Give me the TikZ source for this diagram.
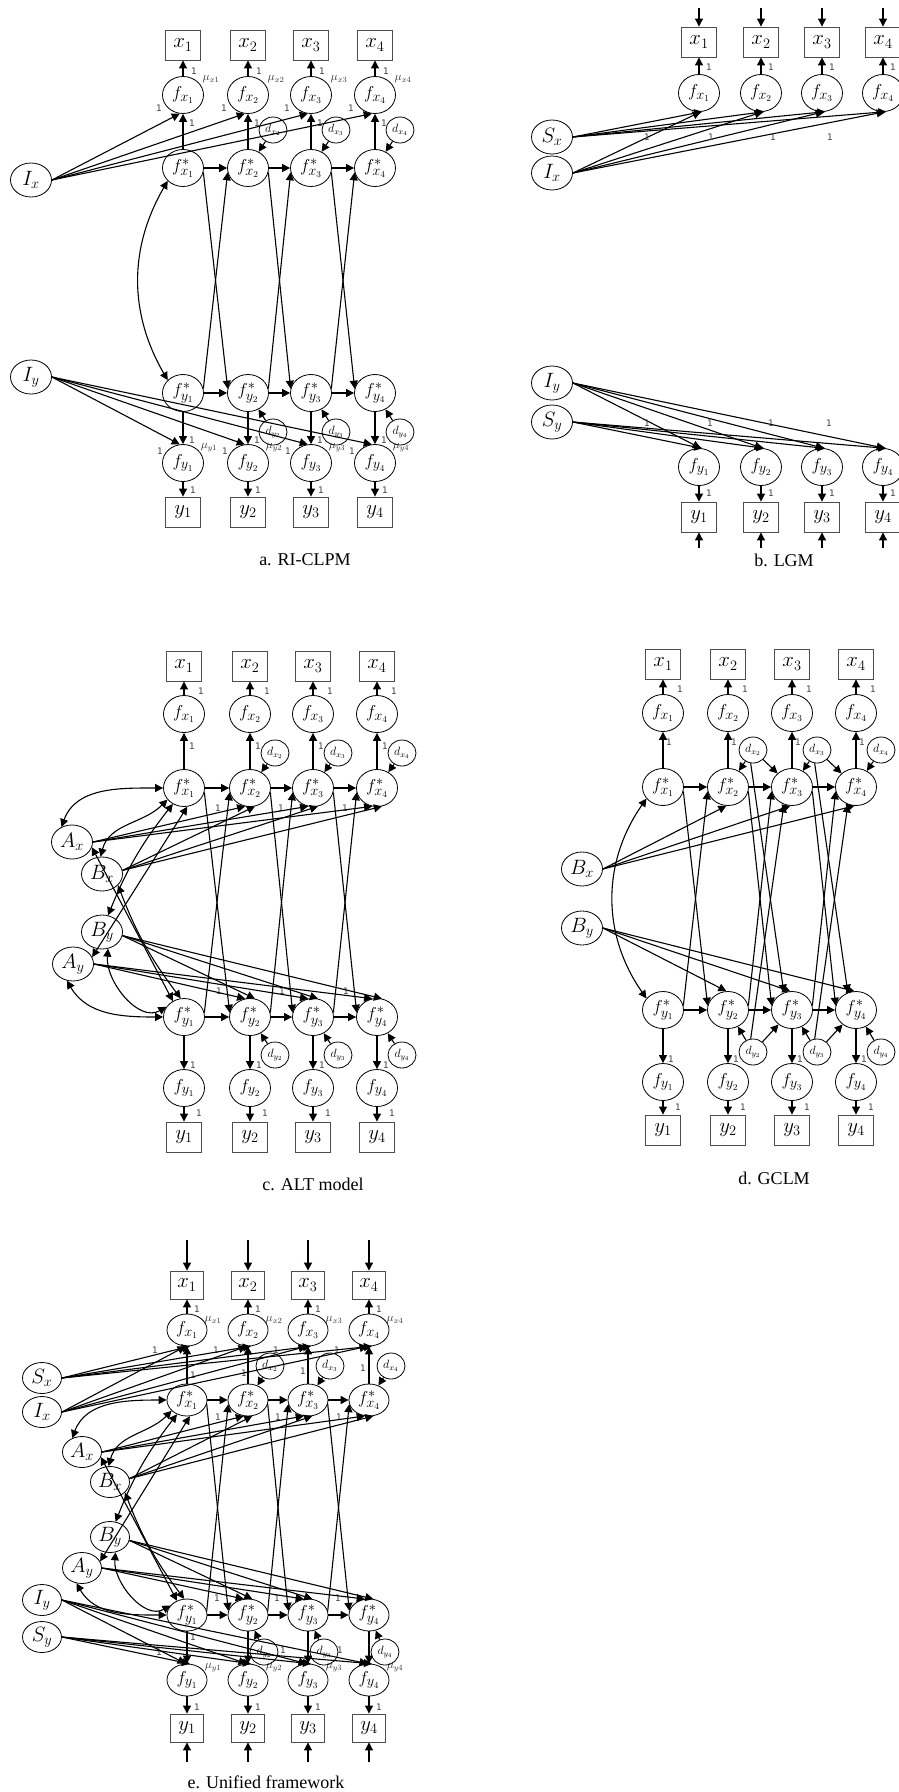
\documentclass[tikz,border=0pt]{standalone}
\usepackage{fontspec}
\setmainfont{Liberation Serif}
\newfontfamily\numfont{DejaVu Sans}
\usetikzlibrary{shapes.geometric,arrows.meta}
\tikzset{
  obs/.style={draw=black!70,line width=0.9pt,minimum width=35pt,minimum height=30pt,inner sep=0pt,font=\fontsize{20}{20}\selectfont},
  obse/.style={obs,minimum width=33pt,minimum height=28pt},
  lat/.style={ellipse,draw,line width=0.8pt,minimum width=41pt,minimum height=37pt,inner sep=-1pt,font=\fontsize{19}{19}\selectfont},
  late/.style={lat,minimum width=40pt,minimum height=32pt},
  grw/.style={ellipse,draw,line width=0.8pt,minimum width=41pt,minimum height=34pt,inner sep=0pt,font=\fontsize{20}{20}\selectfont},
  grwe/.style={grw,minimum width=39pt,minimum height=31pt},
  res/.style={ellipse,draw,line width=0.8pt,minimum width=28pt,minimum height=26pt,inner sep=-1pt,font=\fontsize{12}{12}\selectfont},
  pth/.style={line width=1.1pt,-{Triangle[length=8pt,width=8pt]}},
  cov/.style={line width=1.1pt,{Triangle[length=8pt,width=8pt]}-{Triangle[length=8pt,width=8pt]}},
  one/.style={font=\fontsize{9}{9}\selectfont\numfont,inner sep=0pt,text=black!75},
  mulab/.style={font=\fontsize{12}{12}\selectfont,inner sep=0pt,text=black!80},
  capt/.style={font=\fontsize{18}{18}\selectfont,inner sep=0pt},
}
\begin{document}
\begin{tikzpicture}[x=1pt,y=-1pt]
\fill[white] (0,0) rectangle (899,1792);
\useasboundingbox (0,0) rectangle (899,1792);

% ===================== a. RI-CLPM =====================
\foreach \i/\p in {1/183,2/248,3/311,4/375}{
  \node[obs] (a-x\i) at (\p,45) {$x_{\i}$};
  \node[lat] (a-fx\i) at (\p,95) {$f_{x_{\i}}$};
  \node[lat] (a-sx\i) at (\p,168) {$f^{*}_{x_{\i}}$};
  \node[lat] (a-sy\i) at (\p,393) {$f^{*}_{y_{\i}}$};
  \node[lat] (a-fy\i) at (\p,463) {$f_{y_{\i}}$};
  \node[obs] (a-y\i) at (\p,512) {$y_{\i}$};
  \node[one] at ({\p+11},71) {1};
  \node[mulab] at ({\p+28},79) {$\mu_{x\i}$};
  \node[one] at ({\p-24},108) {1};
  \node[one] at ({\p+9},123) {1};
  \node[one] at ({\p+9},440) {1};
  \node[mulab] at ({\p+26},448) {$\mu_{y\i}$};
  \node[one] at ({\p-23},451) {1};
  \node[one] at ({\p+10},490) {1};
}
\foreach \i/\p in {2/248,3/311,4/375}{
  \node[res] (a-dx\i) at ({\p+25},130) {$d_{x_{\i}}$};
  \node[res] (a-dy\i) at ({\p+25},432) {$d_{y_{\i}}$};
}
\node[grw] (a-Ix) at (31,180) {$I_x$};
\node[grw] (a-Iy) at (31,377) {$I_y$};
\foreach \i in {1,...,4}{
  \draw[pth] (a-fx\i) -- (a-x\i);
  \draw[pth] (a-sx\i) -- (a-fx\i);
  \draw[pth] (a-Ix.east) -- (a-fx\i.260);
  \draw[pth] (a-sy\i) -- (a-fy\i);
  \draw[pth] (a-fy\i) -- (a-y\i);
  \draw[pth] (a-Iy.east) -- (a-fy\i.100);
}
\foreach \i in {2,3,4}{
  \draw[pth] (a-dx\i) -- (a-sx\i);
  \draw[pth] (a-dy\i) -- (a-sy\i);
}
\foreach \i/\j in {1/2,2/3,3/4}{
  \draw[pth] (a-sx\i) -- (a-sx\j);
  \draw[pth] (a-sy\i) -- (a-sy\j);
  \draw[pth] (a-sx\i.-12) -- (a-sy\j.168);
  \draw[pth] (a-sy\i.12) -- (a-sx\j.-168);
}
\draw[cov] (a-sx1.220) to[out=240,in=120] (a-sy1.140);
\node[capt] at (305,560) {a. RI-CLPM};

% ===================== b. LGM =====================
\foreach \i/\p in {1/699,2/761,3/822,4/883}{
  \coordinate (b-tx\i) at (\p,8);
  \node[obs] (b-x\i) at (\p,42) {$x_{\i}$};
  \node[lat] (b-fx\i) at (\p,93) {$f_{x_{\i}}$};
  \node[lat] (b-fy\i) at (\p,467) {$f_{y_{\i}}$};
  \node[obs] (b-y\i) at (\p,517) {$y_{\i}$};
  \coordinate (b-by\i) at (\p,548);
  \node[one] at ({\p+10},67) {1};
  \node[one] at ({\p+10},493) {1};
}
\node[grw] (b-Sx) at (552,137) {$S_x$};
\node[grw] (b-Ix) at (552,173) {$I_x$};
\node[grw] (b-Iy) at (552,383) {$I_y$};
\node[grw] (b-Sy) at (552,422) {$S_y$};
\foreach \i in {1,...,4}{
  \draw[pth] (b-tx\i) -- (b-x\i);
  \draw[pth] (b-fx\i) -- (b-x\i);
  \draw[pth] (b-Sx.east) -- (b-fx\i.-80);
  \draw[pth] (b-Ix.east) -- (b-fx\i.-85);
  \draw[pth] (b-Iy.east) -- (b-fy\i.85);
  \draw[pth] (b-Sy.east) -- (b-fy\i.80);
  \draw[pth] (b-fy\i) -- (b-y\i);
  \draw[pth] (b-by\i) -- (b-y\i);
}
\node[one] at (647,137) {1};
\node[one] at (711,137) {1};
\node[one] at (773,137) {1};
\node[one] at (830,137) {1};
\node[one] at (647,423) {1};
\node[one] at (710,423) {1};
\node[one] at (771,423) {1};
\node[one] at (829,423) {1};
\node[capt] at (784,560) {b. LGM};

% ===================== c. ALT model =====================
\foreach \i/\p in {1/184,2/250,3/313,4/377}{
  \node[obs] (c-x\i) at (\p,666) {$x_{\i}$};
  \node[lat] (c-fx\i) at (\p,714) {$f_{x_{\i}}$};
  \node[lat] (c-sx\i) at (\p,788) {$f^{*}_{x_{\i}}$};
  \node[lat] (c-sy\i) at (\p,1017) {$f^{*}_{y_{\i}}$};
  \node[lat] (c-fy\i) at (\p,1088) {$f_{y_{\i}}$};
  \node[obs] (c-y\i) at (\p,1137) {$y_{\i}$};
  \node[one] at ({\p+17},691) {1};
  \node[one] at ({\p+8},746) {1};
  \node[one] at ({\p+9},1065) {1};
  \node[one] at ({\p+15},1113) {1};
}
\foreach \i/\p in {2/250,3/313,4/377}{
  \node[res] (c-dx\i) at ({\p+25},753) {$d_{x_{\i}}$};
  \node[res] (c-dy\i) at ({\p+25},1055) {$d_{y_{\i}}$};
  \node[one] at ({\p-32},808) {1};
  \node[one] at ({\p-31},991) {1};
}
\node[grw] (c-Ax) at (72,842) {$A_x$};
\node[grw] (c-Bx) at (102,874) {$B_x$};
\node[grw] (c-By) at (102,932) {$B_y$};
\node[grw] (c-Ay) at (73,964) {$A_y$};
\foreach \i in {1,...,4}{
  \draw[pth] (c-fx\i) -- (c-x\i);
  \draw[pth] (c-sx\i) -- (c-fx\i);
  \draw[pth] (c-sy\i) -- (c-fy\i);
  \draw[pth] (c-fy\i) -- (c-y\i);
}
\foreach \i in {2,3,4}{
  \draw[pth] (c-dx\i) -- (c-sx\i);
  \draw[pth] (c-dy\i) -- (c-sy\i);
  \draw[pth] (c-Ax.east) -- (c-sx\i.255);
  \draw[pth] (c-Bx.10) -- (c-sx\i.285);
  \draw[pth] (c-Ay.east) -- (c-sy\i.105);
  \draw[pth] (c-By.-10) -- (c-sy\i.75);
}
\foreach \i/\j in {1/2,2/3,3/4}{
  \draw[pth] (c-sx\i) -- (c-sx\j);
  \draw[pth] (c-sy\i) -- (c-sy\j);
  \draw[pth] (c-sx\i.-12) -- (c-sy\j.168);
  \draw[pth] (c-sy\i.12) -- (c-sx\j.-168);
}
\draw[cov] (c-Ax.125) to[out=70,in=180] (c-sx1.west);
\draw[cov] (c-Bx.95) to[out=75,in=225] (c-sx1.215);
\draw[cov] (c-By.70) to[bend left=8] (c-sx1.235);
\draw[cov] (c-Ay.20) -- (c-sx1.280);
\draw[cov] (c-Ax.-15) -- (c-sy1.125);
\draw[cov] (c-Bx.-35) to[bend right=8] (c-sy1.100);
\draw[cov] (c-By.-70) to[out=-95,in=210] (c-sy1.150);
\draw[cov] (c-Ay.250) to[out=-60,in=180] (c-sy1.west);
\node[capt] at (313,1184) {c. ALT model};

% ===================== d. GCLM =====================
\foreach \i/\p in {1/663,2/728,3/792,4/856}{
  \node[obs] (d-x\i) at (\p,664) {$x_{\i}$};
  \node[lat] (d-fx\i) at (\p,713) {$f_{x_{\i}}$};
  \node[lat] (d-sx\i) at (\p,787) {$f^{*}_{x_{\i}}$};
  \node[lat] (d-sy\i) at (\p,1010) {$f^{*}_{y_{\i}}$};
  \node[lat] (d-fy\i) at (\p,1082) {$f_{y_{\i}}$};
  \node[obs] (d-y\i) at (\p,1130) {$y_{\i}$};
  \node[one] at ({\p+17},689) {1};
  \node[one] at ({\p+6},742) {1};
  \node[one] at ({\p+8},1059) {1};
  \node[one] at ({\p+15},1107) {1};
}
\foreach \i/\p in {2/728,3/792,4/856}{
  \node[res] (d-dx\i) at ({\p+25},750) {$d_{x_{\i}}$};
  \node[res] (d-dy\i) at ({\p+25},1052) {$d_{y_{\i}}$};
}
\node[grw] (d-Bx) at (582,869) {$B_x$};
\node[grw] (d-By) at (582,928) {$B_y$};
\foreach \i in {1,...,4}{
  \draw[pth] (d-fx\i) -- (d-x\i);
  \draw[pth] (d-sx\i) -- (d-fx\i);
  \draw[pth] (d-sy\i) -- (d-fy\i);
  \draw[pth] (d-fy\i) -- (d-y\i);
}
\foreach \i in {2,3,4}{
  \draw[pth] (d-dx\i) -- (d-sx\i);
  \draw[pth] (d-dy\i) -- (d-sy\i);
  \draw[pth] (d-Bx.east) -- (d-sx\i.265);
  \draw[pth] (d-By.east) -- (d-sy\i.95);
}
\foreach \i/\j in {1/2,2/3,3/4}{
  \draw[pth] (d-sx\i) -- (d-sx\j);
  \draw[pth] (d-sy\i) -- (d-sy\j);
  \draw[pth] (d-sx\i.-12) -- (d-sy\j.168);
  \draw[pth] (d-sy\i.12) -- (d-sx\j.-168);
}
\foreach \i/\j in {2/3,3/4}{
  \draw[pth] (d-dx\i) -- (d-sx\j);
  \draw[pth] (d-dx\i.-100) -- (d-sy\j.115);
  \draw[pth] (d-dy\i) -- (d-sy\j);
  \draw[pth] (d-dy\i.100) -- (d-sx\j.-115);
}
\draw[cov] (d-sx1.215) to[out=235,in=125] (d-sy1.145);
\node[capt] at (774,1178) {d. GCLM};

% ===================== e. Unified framework =====================
\foreach \i/\p in {1/187,2/248,3/308,4/369}{
  \coordinate (e-tx\i) at (\p,1240);
  \node[obse] (e-x\i) at (\p,1285) {$x_{\i}$};
  \node[late] (e-fx\i) at (\p,1330) {$f_{x_{\i}}$};
  \node[late] (e-sx\i) at (\p,1400) {$f^{*}_{x_{\i}}$};
  \node[late] (e-sy\i) at (\p,1615) {$f^{*}_{y_{\i}}$};
  \node[late] (e-fy\i) at (\p,1680) {$f_{y_{\i}}$};
  \node[obse] (e-y\i) at (\p,1728) {$y_{\i}$};
  \coordinate (e-by\i) at (\p,1762);
  \node[one] at ({\p+10},1309) {1};
  \node[mulab] at ({\p+26},1320) {$\mu_{x\i}$};
  \node[one] at ({\p-32},1350) {1};
  \node[mulab] at ({\p+26},1668) {$\mu_{y\i}$};
  \node[one] at ({\p+10},1707) {1};
}
\foreach \i/\p in {2/248,3/308,4/369}{
  \node[res] (e-dx\i) at ({\p+22},1366) {$d_{x_{\i}}$};
  \node[res] (e-dy\i) at ({\p+16},1652) {$d_{y_{\i}}$};
  \node[one] at ({\p-30},1417) {1};
  \node[one] at ({\p-31},1598) {1};
}
\node[one] at (193,1375) {1};
\node[one] at (244,1373) {1};
\node[one] at (303,1371) {1};
\node[one] at (363,1368) {1};
\node[one] at (193,1637) {1};
\node[one] at (159,1652) {1};
\node[one] at (283,1650) {1};
\node[one] at (340,1650) {1};
\node[grwe] (e-Sx) at (42,1378) {$S_x$};
\node[grwe] (e-Ix) at (42,1412) {$I_x$};
\node[grwe] (e-Ax) at (82,1452) {$A_x$};
\node[grwe] (e-Bx) at (110,1482) {$B_x$};
\node[grwe] (e-By) at (110,1537) {$B_y$};
\node[grwe] (e-Ay) at (82,1568) {$A_y$};
\node[grwe] (e-Iy) at (42,1600) {$I_y$};
\node[grwe] (e-Sy) at (42,1637) {$S_y$};
\foreach \i in {1,...,4}{
  \draw[pth] (e-tx\i) -- (e-x\i);
  \draw[pth] (e-fx\i) -- (e-x\i);
  \draw[pth] (e-sx\i) -- (e-fx\i);
  \draw[pth] (e-Sx.east) -- (e-fx\i.-80);
  \draw[pth] (e-Ix.east) -- (e-fx\i.-95);
  \draw[pth] (e-Iy.east) -- (e-fy\i.95);
  \draw[pth] (e-Sy.east) -- (e-fy\i.80);
  \draw[pth] (e-sy\i) -- (e-fy\i);
  \draw[pth] (e-fy\i) -- (e-y\i);
  \draw[pth] (e-by\i) -- (e-y\i);
}
\foreach \i in {2,3,4}{
  \draw[pth] (e-dx\i) -- (e-sx\i);
  \draw[pth] (e-dy\i) -- (e-sy\i);
  \draw[pth] (e-Ax.east) -- (e-sx\i.255);
  \draw[pth] (e-Bx.10) -- (e-sx\i.285);
  \draw[pth] (e-Ay.east) -- (e-sy\i.105);
  \draw[pth] (e-By.-10) -- (e-sy\i.75);
}
\foreach \i/\j in {1/2,2/3,3/4}{
  \draw[pth] (e-sx\i) -- (e-sx\j);
  \draw[pth] (e-sy\i) -- (e-sy\j);
  \draw[pth] (e-sx\i.-12) -- (e-sy\j.168);
  \draw[pth] (e-sy\i.12) -- (e-sx\j.-168);
}
\draw[cov] (e-Ax.125) to[out=70,in=180] (e-sx1.west);
\draw[cov] (e-Bx.95) to[out=75,in=225] (e-sx1.215);
\draw[cov] (e-By.70) to[bend left=8] (e-sx1.235);
\draw[cov] (e-Ay.20) -- (e-sx1.280);
\draw[cov] (e-Ax.-15) -- (e-sy1.125);
\draw[cov] (e-Bx.-35) to[bend right=8] (e-sy1.100);
\draw[cov] (e-By.-70) to[out=-95,in=210] (e-sy1.150);
\draw[cov] (e-Ay.250) to[out=-60,in=180] (e-sy1.west);
\node[capt] at (266,1782) {e. Unified framework};
\end{tikzpicture}
\end{document}
